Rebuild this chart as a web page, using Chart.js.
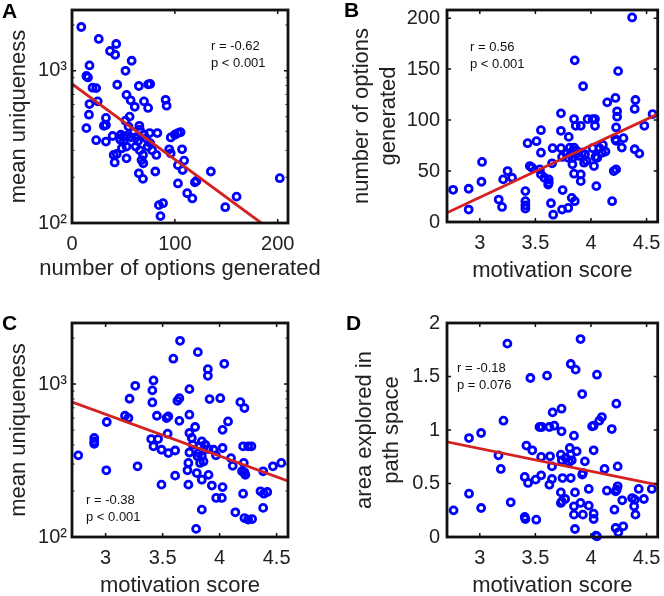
<!DOCTYPE html>
<html>
<head>
<meta charset="utf-8">
<script src="https://cdn.jsdelivr.net/npm/chart.js@4.4.1/dist/chart.umd.min.js"></script>
<style>
    body { margin: 0; background: #fff; width: 664px; height: 596px; position: relative; overflow: hidden; }
    canvas { position: absolute; }
</style>
</head>
<body>
<canvas id="panelA" width="332" height="290" style="left:0;top:0"></canvas>
<canvas id="panelB" width="332" height="290" style="left:332px;top:0"></canvas>
<canvas id="panelC" width="332" height="306" style="left:0;top:290px"></canvas>
<canvas id="panelD" width="332" height="306" style="left:332px;top:290px"></canvas>
<script>
// panel A: options generated vs mean uniqueness
const optionsA = [9, 26, 43, 37, 42, 58, 17, 52, 14, 15.5, 44, 65, 74, 76, 20, 23.5, 53, 57, 25, 17,
    70, 91, 92, 61, 74, 16.5, 56, 33, 52, 31, 33, 14, 65.5, 66, 55, 75.5, 83, 96, 100, 103,
    105.5, 23.5, 33, 39.5, 47.5, 50, 53, 57, 47, 50, 70, 62, 73.6, 69, 67.6, 69.3, 53, 48.5, 40.5, 43.5,
    41.5, 53, 94.5, 96, 107, 82, 109, 103, 107.5, 81, 65, 69, 135, 121, 119.5, 103, 112, 117, 202, 160,
    149, 84.5, 88.5, 86, 64, 66, 76, 72, 60, 78, 62];
const uniquenessA = [1940, 1620, 1500, 1350, 1275, 1165, 1085, 1000, 925, 905, 810, 795, 815, 820, 775, 770, 695, 640, 630, 605,
    630, 645, 590, 580, 570, 515, 500, 490, 470, 435, 440, 420, 435, 410, 430, 390, 390, 365, 380, 390,
    395, 350, 343, 373, 380, 370, 373, 366, 352, 343, 380, 318, 318, 280, 259, 247, 318, 310, 280, 284,
    250, 266, 305, 287, 305, 280, 257, 240, 223, 218, 212, 195, 218, 189, 185, 182, 157, 145, 197, 149,
    127, 131, 135, 111, 345, 300, 335, 360, 395, 300, 365];
const fitXA = [0, 184];
const fitYA = [820, 100];

// panel B: motivation vs options generated
const motivationB = [2.76, 2.9, 2.9, 3.02, 3.015, 3.17, 3.2, 3.21, 3.25, 3.29, 3.41, 3.41, 3.41, 3.41, 3.43, 3.45, 3.47, 3.51, 3.55, 3.55,
    3.54, 3.55, 3.58, 3.62, 3.62, 3.615, 3.65, 3.655, 3.64, 3.66, 3.73, 3.73, 3.73, 3.74, 3.745, 3.74, 3.795, 3.8, 3.81, 3.82,
    3.795, 3.833, 3.863, 3.848, 3.833, 3.827, 3.854, 3.854, 3.848, 3.863, 3.908, 3.848, 3.908, 3.908, 3.929, 3.89, 3.92, 3.946, 3.938, 3.97,
    4.015, 4.036, 4.036, 4.015, 4.04, 4.057, 4.027, 4.048, 4.077, 4.107, 4.13, 4.1, 4.146, 4.19, 4.22, 4.244, 4.235, 4.235, 4.226, 4.226,
    4.22, 4.205, 4.226, 4.292, 4.277, 4.37, 4.4, 4.393, 4.393, 4.435, 4.48, 4.554, 3.96, 3.87, 3.78];
const optionsB = [31.6, 32.6, 12.2, 58.9, 39.5, 22, 14.8, 41.8, 50, 43.4, 30.3, 20.4, 13.2, 16.4, 77.3, 54.9, 53.3, 79.3, 90.1, 68,
    51.6, 46.7, 43.4, 38.5, 41.8, 36.8, 57.6, 72.4, 18.4, 7.2, 106.6, 89.5, 72.4, 63.8, 31.3, 12.2, 13.8, 83.5, 73, 68,
    63, 63, 66.4, 73, 56.6, 23.7, 20.4, 158.6, 101, 94.4, 94.4, 47.4, 46.7, 40.1, 133.2, 64.8, 68, 66.4, 58.2, 101,
    101, 101, 94.4, 72.4, 63.8, 63.1, 54.9, 35.2, 72.4, 75.7, 69.1, 68, 117.4, 20.4, 121.7, 148, 108.6, 103.3, 92.8, 79.6,
    81.2, 50, 51.6, 82.2, 73, 200.7, 119.7, 110.9, 71.4, 67.1, 94.4, 105.9, 60, 70, 67];
const fitXB = [2.7, 4.6];
const fitYB = [8.8, 105.9];

// panel C: motivation vs mean uniqueness
const motivationC = [2.76, 2.9, 2.9, 2.9, 3.01, 3.006, 3.17, 3.2, 3.21, 3.26, 3.28, 3.42, 3.41, 3.41, 3.45, 3.4, 3.42, 3.46, 3.49, 3.55,
    3.61, 3.535, 3.55, 3.544, 3.49, 3.594, 3.63, 3.647, 3.647, 3.61, 3.653, 3.735, 3.735, 3.735, 3.756, 3.785, 3.735, 3.726, 3.718, 3.726,
    3.844, 3.874, 3.824, 3.859, 3.903, 3.947, 3.815, 3.844, 3.806, 3.829, 3.859, 3.8, 3.844, 3.903, 3.765,
    3.809, 3.897, 3.897, 3.912, 4.006, 4.041, 4.074, 4.026, 4.026, 3.968, 3.844, 3.794, 3.932, 3.97, 4.02,
    4.026, 4.1, 4.115, 4.182, 4.218, 4.206, 4.25, 4.279, 4.212, 4.197, 4.218, 4.226, 4.206, 4.138, 4.218,
    4.25, 4.285, 4.382, 4.359, 4.388, 4.418, 4.382, 4.468, 4.541];
const uniquenessC = [342, 444, 422, 407, 565, 273, 621, 600, 802, 975, 290, 1057, 910, 759, 621, 437, 392, 437, 372, 354,
    368, 600, 615, 474, 220, 1466, 778, 809, 575, 252, 1919, 927, 631, 479, 444, 524, 357, 305, 273, 220,
    422, 401, 392, 372, 376, 372, 354, 337, 337, 305, 312, 262, 237, 255, 401,
    1618, 1253, 1133, 798, 809, 1358, 570, 502, 382, 342, 151, 113, 217, 180, 180,
    212, 328, 292, 762, 697, 392, 392, 392, 305, 269, 265, 255, 192, 145, 133,
    130, 131, 269, 199, 192, 197, 155, 290, 305];
const fitXC = [2.7, 4.61];
const fitYC = [767, 231];

// panel D: motivation vs area explored
const motivationD = [2.764, 2.903, 2.903, 3.012, 3.012, 3.168, 3.189, 3.213, 3.248, 3.278, 3.404, 3.434, 3.419, 3.472, 3.404, 3.41, 3.455, 3.502, 3.552, 3.508,
    3.537, 3.558, 3.552, 3.605, 3.626, 3.67, 3.626, 3.632, 3.649, 3.649, 3.655, 3.735, 3.735, 3.729, 3.738, 3.773, 3.809, 3.818, 3.827, 3.803,
    3.744, 3.729, 3.738, 3.729, 3.768, 3.818, 3.818, 3.862, 3.847, 3.871, 3.856, 3.847, 3.847, 3.856, 3.906, 3.921, 3.921, 3.927, 3.906, 3.927,
    3.945, 3.98, 3.98, 4.01, 4.024, 4.024, 4.024, 4.024, 4.054, 4.045, 4.054, 4.075, 4.098, 4.122, 4.143, 4.187, 4.211, 4.222, 4.24, 4.231,
    4.228, 4.24, 4.222, 4.246, 4.29, 4.281, 4.37, 4.388, 4.4, 4.394, 4.429, 4.476, 4.547];
const areaD = [0.249, 0.925, 0.405, 0.972, 0.271, 0.763, 0.636, 1.087, 1.807, 0.324, 0.561, 0.505, 0.854, 0.81, 0.187, 0.168, 1.486, 0.536, 0.576, 0.162,
    1.028, 1.028, 0.748, 1.508, 1.028, 1.04, 0.489, 0.754, 0.66, 0.542, 1.165, 1.199, 0.988, 0.769, 0.717, 0.738, 0.832, 0.769, 0.717, 0.701,
    0.551, 0.417, 0.333, 0.318, 0.355, 0.551, 1.617, 1.564, 0.947, 0.8, 0.417, 0.287, 0.209, 0.075, 1.85, 1.336, 0.583, 0.598, 0.318, 0.209,
    0.707, 0.449, 0.293, 1.034, 1.04, 0.81, 0.218, 0.168, 1.517, 0.012, 0.006, 1.087, 1.121, 0.636, 0.433, 1.009, 0.255, 0.427, 0.474, 0.442,
    1.246, 0.66, 0.084, 0.044, 0.1, 0.343, 0.364, 0.287, 0.209, 0.349, 0.449, 0.355, 0.449];
const fitXD = [2.7, 4.6];
const fitYD = [0.890, 0.488];

const motivationTicks = [3, 3.5, 4, 4.5];
const logTicks = [100, 1000];
const logMinor = [200, 300, 400, 500, 600, 700, 800, 900, 2000];

const FONT = '"Liberation Sans", Arial, Helvetica, sans-serif';
Chart.defaults.font.family = FONT;
Chart.defaults.color = '#222';

function toPoints(xs, ys) {
    let pts = [];
    for (let i = 0; i < xs.length; i++)
        pts.push({x: xs[i], y: ys[i]});
    return pts;
}

// box, inward ticks, stats text and panel letter
const framePlugin = {
    id: 'frame',
    afterDatasetsDraw(chart, args, opts) {
        let ctx = chart.ctx;
        let a = chart.chartArea;
        let xs = chart.scales.x, ys = chart.scales.y;
        ctx.save();
        ctx.strokeStyle = '#111';
        ctx.lineWidth = 1.5;
        ctx.beginPath();
        for (let t of xs.ticks) {
            let px = xs.getPixelForValue(t.value);
            ctx.moveTo(px, a.bottom); ctx.lineTo(px, a.bottom - 4);
            ctx.moveTo(px, a.top); ctx.lineTo(px, a.top + 4);
        }
        for (let t of ys.ticks) {
            let py = ys.getPixelForValue(t.value);
            ctx.moveTo(a.left, py); ctx.lineTo(a.left + 4, py);
            ctx.moveTo(a.right, py); ctx.lineTo(a.right - 4, py);
        }
        ctx.stroke();
        if (opts.minor) {
            ctx.lineWidth = 1;
            ctx.beginPath();
            for (let v of opts.minor) {
                let py = ys.getPixelForValue(v);
                ctx.moveTo(a.left, py); ctx.lineTo(a.left + 2.5, py);
                ctx.moveTo(a.right, py); ctx.lineTo(a.right - 2.5, py);
            }
            ctx.stroke();
        }
        ctx.lineWidth = 2.8;
        ctx.strokeRect(a.left, a.top, a.right - a.left, a.bottom - a.top);

        ctx.fillStyle = '#111';
        ctx.font = '13px ' + FONT;
        ctx.textBaseline = 'middle';
        ctx.textAlign = 'left';
        ctx.fillText(opts.stats[0], a.left + opts.statX, a.top + opts.statY);
        ctx.fillText(opts.stats[1], a.left + opts.statX, a.top + opts.statY + 17);

        if (opts.xTitle) {
            ctx.fillStyle = '#222';
            ctx.font = '22px ' + FONT;
            ctx.textAlign = 'center';
            ctx.fillText(opts.xTitle, (a.left + a.right) / 2, opts.xTitleY);
        }

        ctx.fillStyle = '#000';
        ctx.font = 'bold 21px ' + FONT;
        ctx.textAlign = 'left';
        ctx.textBaseline = 'alphabetic';
        ctx.fillText(opts.letter, opts.letterX, opts.letterY);
        ctx.restore();
    }
};

function makePanel(id, p) {
    let yScale = {
        type: p.logY ? 'logarithmic' : 'linear',
        min: p.yMin,
        max: p.yMax,
        grid: {display: false, drawTicks: false},
        border: {display: false},
        ticks: {
            font: {size: 20, lineHeight: 1.2},
            padding: p.logY ? 5 : 7,
            callback: p.logY ? function (v) { return v === 100 ? '10\u00B2' : '10\u00B3'; } : function (v) { return String(v); }
        },
        title: {
            display: true,
            text: p.yTitle,
            font: {size: 22, lineHeight: 1.2},
            padding: {top: p.yTitlePad, bottom: 0}
        },
        afterBuildTicks: function (scale) {
            scale.ticks = p.yTicks.map(v => ({value: v}));
        },
        afterFit: function (scale) {
            scale.width = p.yWidth;
            scale.paddingTop = 0;
            scale.paddingBottom = 0;
        }
    };
    let xScale = {
        type: 'linear',
        min: p.xMin,
        max: p.xMax,
        grid: {display: false, drawTicks: false},
        border: {display: false},
        ticks: {
            font: {size: 20, lineHeight: 1.2},
            padding: 9,
            callback: function (v) { return String(v); }
        },
        title: {
            display: !p.drawXTitle,
            text: p.xTitle,
            font: {size: 22, lineHeight: 0.8},
            padding: {top: 0, bottom: p.xTitlePad}
        },
        afterBuildTicks: function (scale) {
            scale.ticks = p.xTicks.map(v => ({value: v}));
        },
        afterFit: function (scale) {
            scale.height = p.xHeight;
            scale.paddingLeft = 0;
            scale.paddingRight = 0;
        }
    };
    return new Chart(document.getElementById(id), {
        type: 'scatter',
        data: {
            datasets: [
                {
                    label: 'fit',
                    data: toPoints(p.fitX, p.fitY),
                    showLine: true,
                    borderColor: '#d42222',
                    borderWidth: 2.8,
                    pointRadius: 0,
                    pointHoverRadius: 0
                },
                {
                    label: 'data',
                    data: toPoints(p.xs, p.ys),
                    clip: false,
                    pointStyle: 'circle',
                    pointRadius: 3.5,
                    pointHoverRadius: 3.5,
                    pointBorderWidth: 2.8,
                    pointBorderColor: '#0000ff',
                    pointBackgroundColor: 'rgba(0,0,0,0)'
                }]
        },
        options: {
            responsive: false,
            animation: false,
            events: [],
            layout: {padding: {left: 0, top: p.padTop, right: p.padRight, bottom: 0}},
            plugins: {
                legend: {display: false},
                tooltip: {enabled: false},
                frame: {
                    stats: p.stats, statX: p.statX, statY: p.statY,
                    letter: p.letter, letterX: p.letterX, letterY: p.letterY,
                    minor: p.logY ? logMinor : null,
                    xTitle: p.drawXTitle ? p.xTitle : null,
                    xTitleY: p.xTitleY
                }
            },
            scales: {x: xScale, y: yScale}
        },
        plugins: [framePlugin]
    });
}

makePanel('panelA', {
    xs: optionsA, ys: uniquenessA, fitX: fitXA, fitY: fitYA,
    xMin: 0, xMax: 210, xTicks: [0, 100, 200],
    logY: true, yMin: 100, yMax: 2510, yTicks: logTicks,
    xTitle: 'number of options generated', drawXTitle: true, xTitleY: 269,
    yTitle: 'mean uniqueness', yTitlePad: 6,
    yWidth: 72, xHeight: 67, padTop: 10, padRight: 44, xTitlePad: 0,
    stats: ['r = -0.62', 'p < 0.001'], statX: 139, statY: 36,
    letter: 'A', letterX: 2, letterY: 18
});

makePanel('panelB', {
    xs: motivationB, ys: optionsB, fitX: fitXB, fitY: fitYB,
    xMin: 2.705, xMax: 4.6, xTicks: motivationTicks,
    logY: false, yMin: 0, yMax: 208, yTicks: [0, 50, 100, 150, 200],
    xTitle: 'motivation score', xTitlePad: 10,
    yTitle: ['number of options', 'generated'], yTitlePad: 17,
    yWidth: 115, xHeight: 68, padTop: 10, padRight: 5,
    stats: ['r = 0.56', 'p < 0.001'], statX: 23, statY: 37,
    letter: 'B', letterX: 12, letterY: 17
});

makePanel('panelC', {
    xs: motivationC, ys: uniquenessC, fitX: fitXC, fitY: fitYC,
    xMin: 2.705, xMax: 4.6, xTicks: motivationTicks,
    logY: true, yMin: 100, yMax: 2510, yTicks: logTicks,
    xTitle: 'motivation score', xTitlePad: 1,
    yTitle: 'mean uniqueness', yTitlePad: 6,
    yWidth: 72, xHeight: 59, padTop: 33, padRight: 44,
    stats: ['r = -0.38', 'p < 0.001'], statX: 14, statY: 177,
    letter: 'C', letterX: 2, letterY: 40
});

makePanel('panelD', {
    xs: motivationD, ys: areaD, fitX: fitXD, fitY: fitYD,
    xMin: 2.705, xMax: 4.6, xTicks: motivationTicks,
    logY: false, yMin: 0, yMax: 2, yTicks: [0, 0.5, 1, 1.5, 2],
    xTitle: 'motivation score', xTitlePad: 1,
    yTitle: ['area explored in', 'path space'], yTitlePad: 20,
    yWidth: 115, xHeight: 59, padTop: 33, padRight: 5,
    stats: ['r = -0.18', 'p = 0.076'], statX: 10, statY: 45,
    letter: 'D', letterX: 14, letterY: 40
});
</script>
</body>
</html>
